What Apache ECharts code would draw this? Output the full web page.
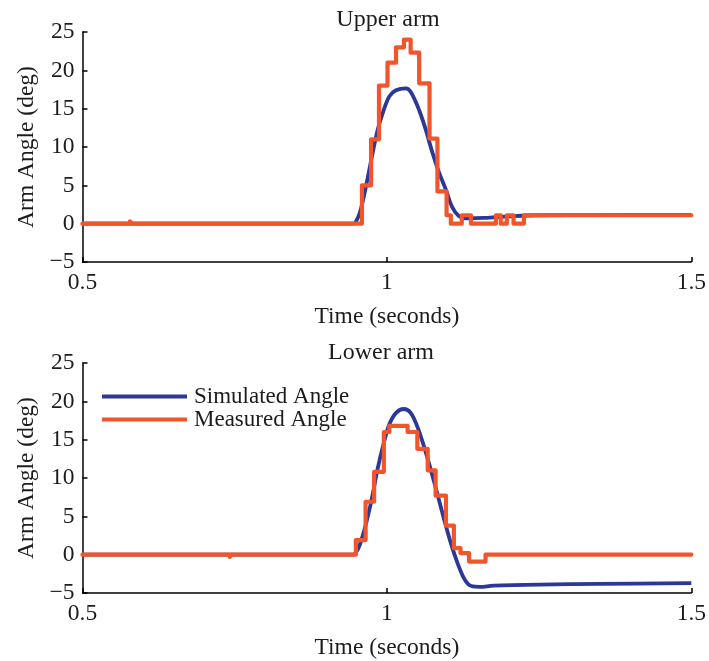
<!DOCTYPE html>
<html>
<head>
<meta charset="utf-8">
<script src="https://cdn.jsdelivr.net/npm/echarts@6/dist/echarts.min.js"></script>
<style>html,body{margin:0;padding:0;background:#fff}#c{width:709px;height:661px}</style>
</head>
<body>
<div id="c"></div>
<script>
// ---- Data (time in seconds, angle in degrees) ----
const titles = ['Upper arm', 'Lower arm'];
const seriesNames = ['Simulated Angle', 'Measured Angle'];
const xTicks = [0.5, 1, 1.5];
const yTicks = [-5, 0, 5, 10, 15, 20, 25];

// Upper arm – simulated (smooth)
const upperSimT = [0.5, 0.7, 0.9, 0.945, 0.95, 0.955, 0.96, 0.966, 0.976, 0.985, 0.993, 1.004, 1.015, 1.031, 1.039, 1.053, 1.064, 1.075, 1.086, 1.097, 1.107, 1.118, 1.13, 1.16, 1.2, 1.25, 1.35, 1.5];
const upperSimV = [0, 0, 0, 0, 0.4, 1.3, 2.8, 5.0, 9.0, 12.3, 14.4, 16.6, 17.4, 17.65, 17.2, 14.8, 12.2, 9.2, 6.6, 4.4, 2.2, 1.0, 0.7, 0.75, 0.95, 1.1, 1.12, 1.15];
// Upper arm – measured (step changes: value holds from time until next time)
const upperMeasT = [0.5, 0.578, 0.581, 0.959, 0.974, 0.987, 1.001, 1.015, 1.028, 1.039, 1.053, 1.070, 1.083, 1.098, 1.105, 1.123, 1.138, 1.179, 1.187, 1.197, 1.208, 1.225, 1.5];
const upperMeasV = [0, 0.3, 0, 5, 11, 18, 21, 23, 24, 22.3, 18.3, 11.1, 4.2, 1.1, 0, 1.1, 0, 1.1, 0, 1.1, 0, 1.1, 1.1];

// Lower arm – simulated
const lowerSimT = [0.5, 0.7, 0.9, 0.945, 0.95, 0.955, 0.96, 0.965, 0.975, 0.985, 0.995, 1.004, 1.015, 1.028, 1.039, 1.05, 1.061, 1.072, 1.084, 1.094, 1.105, 1.116, 1.126, 1.133, 1.141, 1.152, 1.175, 1.25, 1.35, 1.5];
const lowerSimV = [0, 0, 0, 0, 0.4, 1.2, 2.4, 3.8, 7.2, 11.3, 14.6, 17.0, 18.5, 19.0, 18.5, 16.7, 14.1, 11.1, 7.6, 4.6, 1.5, -1.1, -3.0, -3.8, -4.15, -4.2, -4.05, -3.9, -3.8, -3.72];
// Lower arm – measured (step)
const lowerMeasT = [0.5, 0.742, 0.745, 0.949, 0.965, 0.979, 0.995, 1.004, 1.034, 1.050, 1.067, 1.080, 1.097, 1.110, 1.121, 1.135, 1.162, 1.5];
const lowerMeasV = [0, -0.3, 0, 1.9, 6.9, 10.8, 16.0, 16.8, 16.0, 13.8, 11.0, 7.7, 3.8, 0.85, 0.2, -0.9, 0, 0];

// ---- Build ----
const zip = (t, v) => t.map((x, i) => [x, v[i]]);
const BLUE = '#2C3895', ORANGE = '#F2552C', INK = '#1c1c1c';
const FONT = '"Liberation Serif", "DejaVu Serif", serif';

const chart = echarts.init(document.getElementById('c'), null, {renderer: 'canvas'});
const grids = [
  {left: 82.5, right: 16, top: 32, height: 230},
  {left: 82.5, right: 16, top: 363, height: 230}
];
const fmtNum = v => String(v).replace('-', '\u2212');
const xAxes = grids.map((g, i) => ({
  type: 'value', gridIndex: i, min: xTicks[0], max: xTicks[xTicks.length - 1], interval: 0.5,
  name: 'Time (seconds)', nameLocation: 'middle', nameGap: 43,
  nameTextStyle: {fontFamily: FONT, fontSize: 23.5, color: INK},
  axisLine: {onZero: false, lineStyle: {color: '#000', width: 1.5}},
  axisTick: {inside: true, length: 5, lineStyle: {color: '#000', width: 1.5}},
  axisLabel: {fontFamily: FONT, fontSize: 23.5, color: INK, margin: 9, formatter: fmtNum},
  splitLine: {show: false}
}));
const yAxes = grids.map((g, i) => ({
  type: 'value', gridIndex: i, min: yTicks[0], max: yTicks[yTicks.length - 1], interval: 5,
  name: 'Arm Angle (deg)', nameLocation: 'middle', nameGap: 44,
  nameTextStyle: {fontFamily: FONT, fontSize: 23.5, color: INK},
  axisLine: {onZero: false, lineStyle: {color: '#000', width: 1.5}},
  axisTick: {inside: true, length: 5, lineStyle: {color: '#000', width: 1.5}},
  axisLabel: {fontFamily: FONT, fontSize: 23.5, color: INK, margin: 8, formatter: fmtNum},
  splitLine: {show: false}
}));
const simSets = [zip(upperSimT, upperSimV), zip(lowerSimT, lowerSimV)];
const measSets = [zip(upperMeasT, upperMeasV), zip(lowerMeasT, lowerMeasV)];
const series = [];
[0, 1].forEach(i => {
  series.push({
    name: seriesNames[0], type: 'line', xAxisIndex: i, yAxisIndex: i,
    data: simSets[i], smooth: 0.35, showSymbol: false, symbol: 'none',
    lineStyle: {color: BLUE, width: 3.8}, itemStyle: {color: BLUE}, z: 2
  });
  series.push({
    name: seriesNames[1], type: 'line', xAxisIndex: i, yAxisIndex: i,
    data: measSets[i], step: 'end', showSymbol: false, symbol: 'none',
    lineStyle: {color: ORANGE, width: 4.2, join: 'round', cap: 'round'}, itemStyle: {color: ORANGE}, z: 3
  });
});

chart.setOption({
  animation: false,
  backgroundColor: '#fff',
  title: [
    {text: titles[0], left: 383, top: 3, textAlign: 'center', textStyle: {fontFamily: FONT, fontSize: 24, fontWeight: 'normal', color: INK}},
    {text: titles[1], left: 376, top: 336, textAlign: 'center', textStyle: {fontFamily: FONT, fontSize: 24, fontWeight: 'normal', color: INK}}
  ],
  legend: {
    data: seriesNames, orient: 'vertical', left: 97, top: 380, itemGap: 0,
    itemWidth: 85, itemHeight: 4, icon: 'rect',
    textStyle: {fontFamily: FONT, fontSize: 23, color: INK, padding: [0, 0, 0, 2]}
  },
  grid: grids,
  xAxis: xAxes,
  yAxis: yAxes,
  series: series
});
</script>
</body>
</html>
